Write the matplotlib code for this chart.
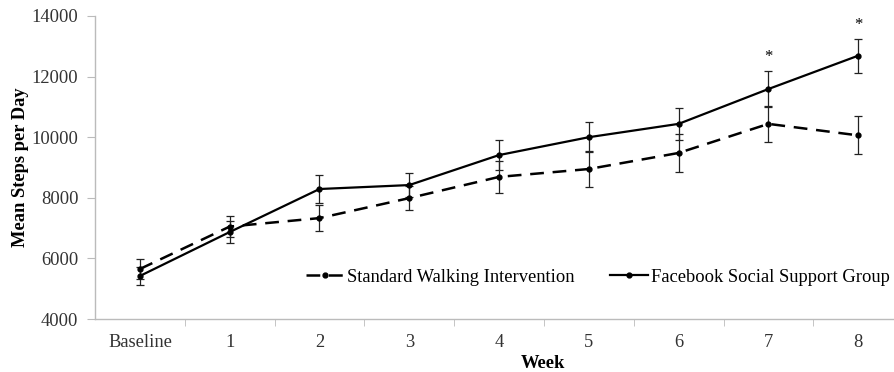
import matplotlib
matplotlib.use("Agg")
import matplotlib.pyplot as plt

categories = ["Baseline", "1", "2", "3", "4", "5", "6", "7", "8"]
standard_mean = [5650, 7050, 7330, 7990, 8690, 8950, 9480, 10440, 10060]
standard_err = [330, 350, 430, 390, 530, 590, 630, 600, 630]
facebook_mean = [5420, 6870, 8290, 8420, 9410, 10000, 10440, 11590, 12690]
facebook_err = [300, 350, 460, 400, 500, 500, 530, 590, 560]
significant = ["7", "8"]
yticks = [4000, 6000, 8000, 10000, 12000, 14000]

plt.rcParams['font.family'] = ['Liberation Serif', 'DejaVu Serif']
FS = 13.3

fig = plt.figure(figsize=(8.95, 3.72), dpi=100)
ax = fig.add_axes([95/895, 1-319/372, 800/895, 303/372])

x = list(range(len(categories)))
ecol = '#222222'
ax.errorbar(x, standard_mean, yerr=standard_err, fmt='none', ecolor=ecol,
            elinewidth=0.9, capsize=3, capthick=0.9, zorder=2)
ax.errorbar(x, facebook_mean, yerr=facebook_err, fmt='none', ecolor=ecol,
            elinewidth=0.9, capsize=3, capthick=0.9, zorder=2)
ax.plot(x, standard_mean, color='black', lw=1.8, dashes=(5.5, 3.5),
        marker='o', markersize=3.5, label='Standard Walking Intervention', zorder=3)
ax.plot(x, facebook_mean, color='black', lw=1.6, ls='-',
        marker='o', markersize=3.5, label='Facebook Social Support Group', zorder=3)

for c in significant:
    i = categories.index(c)
    ax.text(i, facebook_mean[i] + facebook_err[i] + 200, '*', ha='center',
            va='bottom', fontsize=12)

ax.set_xlim(-0.5, 8.41)
ax.set_ylim(4000, 14000)
ax.set_yticks(yticks)
ax.set_yticklabels([str(v) for v in yticks], fontsize=FS, color='#333333')
ax.set_xticks(x)
ax.set_xticklabels(categories, fontsize=FS, color='#333333')
ax.tick_params(axis='x', which='major', length=0, pad=11)
ax.set_xticks([i + 0.5 for i in range(8)], minor=True)
ax.tick_params(axis='x', which='minor', length=5, color='#bbbbbb', direction='out')
ax.tick_params(axis='y', length=6, color='#bbbbbb', direction='out', pad=6)

for s in ['top', 'right']:
    ax.spines[s].set_visible(False)
for s in ['left', 'bottom']:
    ax.spines[s].set_color('#bbbbbb')
    ax.spines[s].set_linewidth(1)

ax.set_ylabel('Mean Steps per Day', fontsize=FS, fontweight='bold')
ax.yaxis.set_label_coords(-0.083, 0.5)
ax.set_xlabel('Week', fontsize=FS, fontweight='bold')
ax.xaxis.set_label_coords(0.56, -0.118)

leg = ax.legend(loc='center left', bbox_to_anchor=(306/895, 1-277/372),
                bbox_transform=fig.transFigure, ncol=2, frameon=False,
                fontsize=FS, handlelength=2.06, handletextpad=0.18,
                columnspacing=1.9, borderpad=0, borderaxespad=0)

fig.savefig('out.png', dpi=100)
